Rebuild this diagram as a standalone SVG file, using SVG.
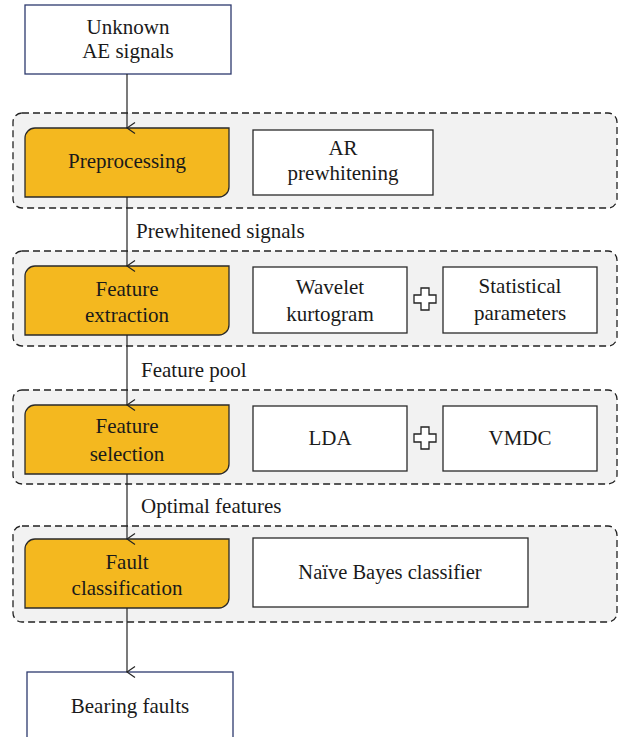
<svg xmlns="http://www.w3.org/2000/svg" width="622" height="737" viewBox="0 0 622 737">
<defs>
<marker id="arr" viewBox="0 0 12 10" refX="6" refY="9" markerWidth="12" markerHeight="10" markerUnits="userSpaceOnUse" orient="auto-start-reverse">
<path d="M0.5,1 L6,9 L11.5,1" fill="none" stroke="#222" stroke-width="1.2"/>
</marker>
<path id="plus" d="M-4,-11 H4 V-4 H11 V4 H4 V11 H-4 V4 H-11 V-4 H-4 Z"/>
</defs>
<style>
text{font-family:"Liberation Serif","Times New Roman",serif;font-size:21px;fill:#1a1a1a;text-anchor:middle}
.lbl{text-anchor:start}
.grp{fill:#f2f2f2;stroke:#222;stroke-width:1.3;stroke-dasharray:7,4}
.yel{fill:#f4b81f;stroke:#2a2a2a;stroke-width:1.3}
.wht{fill:#ffffff;stroke:#2a2a2a;stroke-width:1.3}
.io{fill:#ffffff;stroke:#2d3a6e;stroke-width:1.3}
.pl{fill:#ffffff;stroke:#222;stroke-width:1.3}
.con{stroke:#222;stroke-width:1.2;fill:none;marker-end:url(#arr)}
</style>
<rect width="622" height="737" fill="#ffffff"/>

<g id="stage1"><rect class="grp" x="13" y="113" width="604" height="95" rx="9"/></g>
<g id="stage2"><rect class="grp" x="13" y="251" width="604" height="95" rx="9"/></g>
<g id="stage3"><rect class="grp" x="13" y="390" width="604" height="94" rx="9"/></g>
<g id="stage4"><rect class="grp" x="13" y="526" width="604" height="96" rx="9"/></g>

<g id="input">
<rect class="io" x="25" y="5" width="206" height="69"/>
<text x="128" y="34">Unknown</text>
<text x="128" y="58">AE signals</text>
</g>

<g id="preprocessing">
<path class="yel" d="M35,128 H229 V187 A10,10 0 0 1 219,197 H25 V138 A10,10 0 0 1 35,128 Z"/>
<text x="127" y="168">Preprocessing</text>
</g>
<g id="ar">
<rect class="wht" x="253" y="130" width="180" height="65"/>
<text x="343" y="155">AR</text>
<text x="343" y="180">prewhitening</text>
</g>

<g id="extraction">
<path class="yel" d="M35,266 H229 V325 A10,10 0 0 1 219,335 H25 V276 A10,10 0 0 1 35,266 Z"/>
<text x="127" y="296">Feature</text>
<text x="127" y="322">extraction</text>
</g>
<g id="wavelet">
<rect class="wht" x="253" y="267" width="154" height="66"/>
<text x="330" y="294">Wavelet</text>
<text x="330" y="321">kurtogram</text>
</g>
<g id="plus1"><use href="#plus" class="pl" x="425" y="299"/></g>
<g id="statistical">
<rect class="wht" x="443" y="267" width="154" height="66"/>
<text x="520" y="293">Statistical</text>
<text x="520" y="320">parameters</text>
</g>

<g id="selection">
<path class="yel" d="M35,405 H229 V464 A10,10 0 0 1 219,474 H25 V415 A10,10 0 0 1 35,405 Z"/>
<text x="127" y="433">Feature</text>
<text x="127" y="461">selection</text>
</g>
<g id="lda">
<rect class="wht" x="253" y="406" width="154" height="65"/>
<text x="330" y="445">LDA</text>
</g>
<g id="plus2"><use href="#plus" class="pl" x="425" y="438"/></g>
<g id="vmdc">
<rect class="wht" x="443" y="406" width="154" height="65"/>
<text x="520" y="445">VMDC</text>
</g>

<g id="classification">
<path class="yel" d="M35,539 H229 V598 A10,10 0 0 1 219,608 H25 V549 A10,10 0 0 1 35,539 Z"/>
<text x="127" y="569">Fault</text>
<text x="127" y="595">classification</text>
</g>
<g id="bayes">
<rect class="wht" x="253" y="538" width="275" height="69"/>
<text x="390" y="579" style="font-size:20.5px">Naïve Bayes classifier</text>
</g>

<g id="output">
<rect class="io" x="27" y="672" width="206" height="80"/>
<text x="130" y="713">Bearing faults</text>
</g>

<g id="connectors">
<line class="con" x1="127" y1="74" x2="127" y2="128"/>
<line class="con" x1="127" y1="197" x2="127" y2="266"/>
<line class="con" x1="127" y1="335" x2="127" y2="405"/>
<line class="con" x1="127" y1="474" x2="127" y2="539"/>
<line class="con" x1="127" y1="608" x2="127" y2="672"/>
<text class="lbl" x="136" y="238">Prewhitened signals</text>
<text class="lbl" x="141" y="377">Feature pool</text>
<text class="lbl" x="141" y="513">Optimal features</text>
</g>
</svg>
